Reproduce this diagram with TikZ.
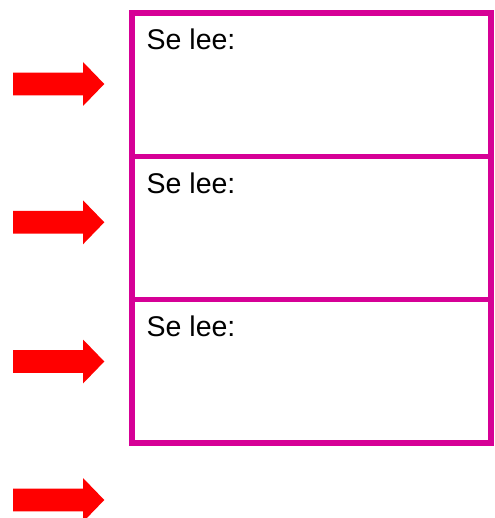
\documentclass[tikz,border=0pt]{standalone}
\usepackage{fontspec}
\setmainfont{Liberation Sans}
\definecolor{mag}{RGB}{214,0,150}
\begin{document}
\begin{tikzpicture}[x=1pt,y=-1pt,
  box/.style={draw=mag,line width=5.8pt,minimum width=359pt,inner sep=0pt,outer sep=0pt,anchor=north west},
  lbl/.style={anchor=base west,inner sep=0pt,font=\fontsize{28.5}{34}\selectfont},
  redarrow/.style={fill=red}]
\useasboundingbox (0,0) rectangle (494,518);
\node[box,minimum height=143.5pt] (b1) at (132,13) {};
\node[box,minimum height=143pt] (b2) at (132,156.5) {};
\node[box,minimum height=143.7pt] (b3) at (132,299.5) {};
\node[lbl] (t1) at (146.5,50) {Se lee:};
\node[lbl] (t2) at (146.5,193.3) {Se lee:};
\node[lbl] (t3) at (146.5,336.7) {Se lee:};
\foreach \yy/\n in {84/a1,222.3/a2,361.5/a3,500/a4}{
  \fill[redarrow] (13,\yy-11.3) -- (83,\yy-11.3) -- (83,\yy-22) -- (104.3,\yy) -- (83,\yy+22) -- (83,\yy+11.3) -- (13,\yy+11.3) -- cycle;
}
\end{tikzpicture}
\end{document}
